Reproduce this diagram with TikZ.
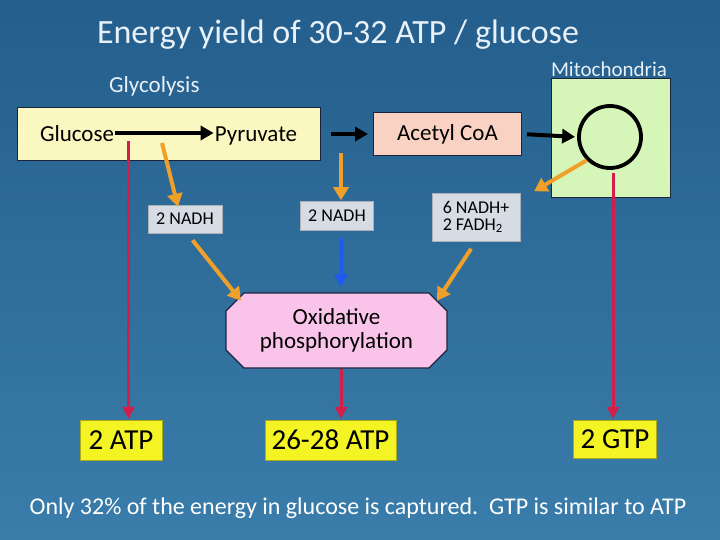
\documentclass[tikz,border=0pt]{standalone}
\usepackage{fontspec}
\setmainfont{Carlito}
\usetikzlibrary{arrows.meta,shapes.misc}
\definecolor{bgtop}{RGB}{36,94,140}
\definecolor{bgbot}{RGB}{58,125,170}
\definecolor{lighttxt}{RGB}{232,240,248}
\definecolor{glyfill}{RGB}{250,248,192}
\definecolor{acfill}{RGB}{250,210,196}
\definecolor{mitofill}{RGB}{214,245,184}
\definecolor{nadhfill}{RGB}{214,220,228}
\definecolor{oxfill}{RGB}{250,196,234}
\definecolor{atpfill}{RGB}{244,244,36}
\definecolor{redarr}{RGB}{210,30,75}
\definecolor{orgarr}{RGB}{240,160,40}
\definecolor{bluarr}{RGB}{30,90,235}
\definecolor{edge}{RGB}{30,35,60}
\tikzset{
  fs/.style={font=\fontsize{#1}{#1}\selectfont},
  boxbase/.style={draw=edge, line width=1pt, inner sep=1pt},
  lbl/.style={fs=23, text=black, inner sep=1pt, anchor=base},
  nadh/.style={fill=nadhfill, draw=nadhfill!80!black, line width=0.5pt, fs=18, text=black, align=left},
  atp/.style={fill=atpfill, draw=atpfill!70!black, line width=0.5pt, fs=29, text=black},
  blk/.style={line width=4pt, -{Triangle[length=13pt,width=14pt]}},
  org/.style={line width=4pt, orgarr, -{Triangle[length=13pt,width=15pt]}},
  red/.style={line width=3pt, redarr, -{Triangle[length=12pt,width=12pt]}},
  blu/.style={line width=3pt, bluarr, -{Triangle[length=13pt,width=13pt]}},
}
\begin{document}
\begin{tikzpicture}[x=1pt,y=-1pt]
\useasboundingbox (0,0) rectangle (720,540);
\shade[top color=bgtop, bottom color=bgbot] (0,0) rectangle (720,540);
% title
\node[fs=34, text=lighttxt, anchor=base] (title) at (338,44) {Energy yield of 30-32 ATP / glucose};
% glycolysis
\node[boxbase, fill=glyfill, minimum width=303pt, minimum height=53pt] (gly) at (168.5,134) {};
\node[fs=23, text=lighttxt, anchor=base west, inner sep=0pt] (glylab) at (109,93) {Glycolysis};
\node[lbl] (glc) at (77,142) {Glucose};
\node[lbl] (pyr) at (256,142) {Pyruvate};
\draw[blk] (glc.east |- 0,133) -- (pyr.west |- 0,133);
% acetyl CoA
\node[boxbase, fill=acfill, minimum width=148pt, minimum height=43pt, fs=23] (aca) at (447.5,134) {Acetyl CoA};
% mitochondria
\node[draw=edge, line width=0.8pt, fill=mitofill, minimum width=119pt, minimum height=119pt] (mito) at (610.5,137.5) {};
\node[fs=21, text=lighttxt, anchor=base, inner sep=0pt] (mitolab) at (609,77) {Mitochondria};
\node[circle, draw=black, line width=3.8pt, minimum size=62pt, inner sep=0pt] (circ) at (610,137) {};
\draw[blk, shorten <=10pt, shorten >=5pt] (gly.east) -- (aca.west);
\draw[blk, shorten <=5pt, shorten >=2pt] (aca.east) -- (circ.west);
% NADH boxes
\node[nadh, minimum width=74pt, minimum height=28pt] (n1) at (185,219) {2 NADH};
\node[nadh, minimum width=73pt, minimum height=29pt] (n2) at (337,216) {2 NADH};
\node[nadh, minimum width=88pt, minimum height=48pt] (n3) at (476,217) {6 NADH+\\[-1pt]2 FADH\textsubscript{2}};
% oxidative phosphorylation
\node[chamfered rectangle, chamfered rectangle xsep=9pt, chamfered rectangle ysep=9pt,
      draw=edge, line width=1.2pt, fill=oxfill, minimum width=221pt, minimum height=75pt,
      fs=23, text=black, align=center, inner sep=0pt] (ox) at (336.5,330.5) {Oxidative\\[1pt]phosphorylation};
% ATP boxes
\node[atp, minimum width=82pt, minimum height=40pt] (a1) at (121,440) {2 ATP};
\node[atp, minimum width=131pt, minimum height=40pt] (a2) at (330.5,440) {26-28 ATP};
\node[atp, minimum width=83pt, minimum height=38pt] (a3) at (615,439) {2 GTP};
% orange arrows
\coordinate (o1s) at (162,143);
\draw[org] (o1s) -- ([xshift=-7pt,yshift=-2pt]n1.north);
\coordinate (o2s) at (341,153);
\draw[org, shorten >=1pt] (o2s) -- (o2s |- n2.north);
\draw[org, shorten >=1pt] (circ.225) -- ([xshift=13pt,yshift=1pt]n3.north east);
\draw[org, shorten <=9pt, shorten >=1pt] ([xshift=2pt]n1.south) -- ([xshift=7pt]ox.north west);
\draw[org, shorten <=9pt, shorten >=1pt] (n3.south) -- ([xshift=-2pt]ox.north east);
% blue
\draw[blu, shorten <=7pt, shorten >=5pt] ([xshift=4pt]n2.south) -- ([xshift=4pt]n2.south |- ox.north);
% red
\coordinate (r1) at (128.5,141);
\draw[red, shorten >=1pt] (r1) -- (r1 |- a1.north);
\draw[red, shorten >=1pt] ([xshift=4.5pt]ox.south) -- ([xshift=4.5pt]ox.south |- a2.north);
\draw[red, shorten <=3pt, shorten >=1pt] ([xshift=3pt]circ.south) -- ([xshift=3pt]circ.south |- a3.north);
% bottom text
\node[fs=24, text=white, anchor=base] (foot) at (358,514) {Only 32\% of the energy in glucose is captured.\ \ GTP is similar to ATP};
\end{tikzpicture}
\end{document}
